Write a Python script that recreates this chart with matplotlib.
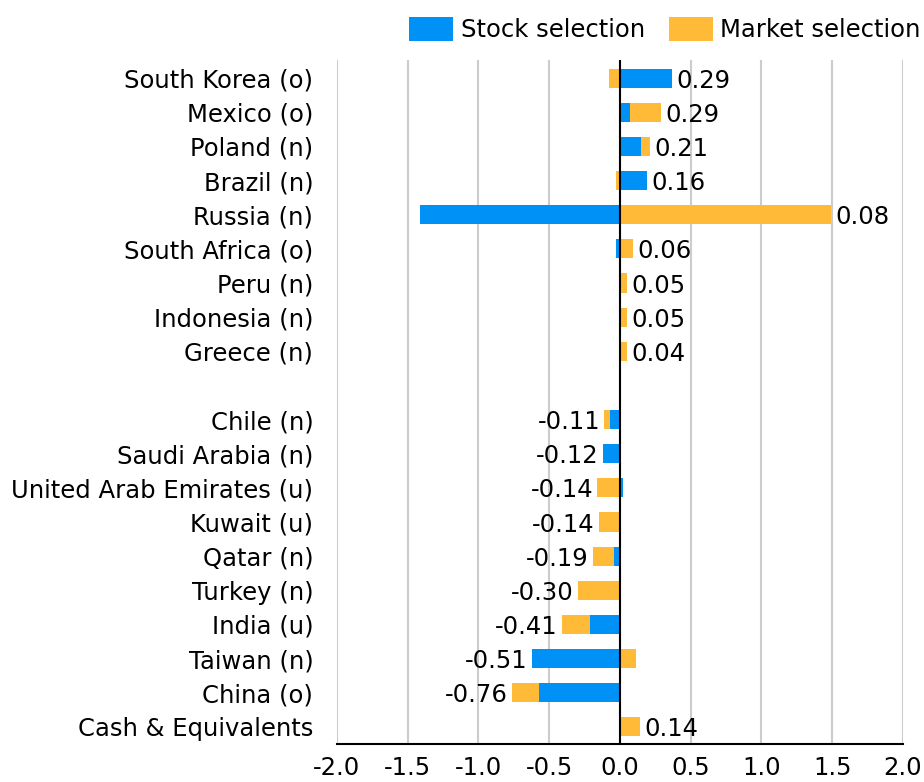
import numpy as np
from matplotlib import pyplot as plt

countries = ['South Korea (o)', 'Mexico (o)', 'Poland (n)', 'Brazil (n)', 'Russia (n)',
             'South Africa (o)', 'Peru (n)', 'Indonesia (n)', 'Greece (n)', '',
             'Chile (n)', 'Saudi Arabia (n)', 'United Arab Emirates (u)', 'Kuwait (u)',
             'Qatar (n)', 'Turkey (n)', 'India (u)', 'Taiwan (n)', 'China (o)',
             'Cash & Equivalents']
stock = [0.37, 0.07, 0.15, 0.19, -1.41, -0.03, 0.00, 0.01, -0.01, 0.0,
         -0.07, -0.12, 0.02, 0.01, -0.04, -0.01, -0.21, -0.62, -0.57, 0.00]
market = [-0.08, 0.22, 0.06, -0.03, 1.49, 0.09, 0.05, 0.04, 0.05, 0.0,
          -0.04, 0.00, -0.16, -0.15, -0.15, -0.29, -0.20, 0.11, -0.19, 0.14]
blank_rows = [9]

blue = '#0091f7'
orange = '#ffbb38'
fs = 17.5

stock = np.array(stock)
market = np.array(market)
y = np.arange(len(countries))

fig = plt.figure(figsize=(9.24, 7.82), dpi=100)
ax = fig.add_axes([0.3647, 0.0486, 0.6125, 0.8746])

# diverging stack: stock nearest zero, market stacked outward on its own side
pos_base = np.where(stock > 0, stock, 0)
neg_base = np.where(stock < 0, stock, 0)
mkt_left = np.where(market >= 0, pos_base, neg_base)
mask = np.ones(len(y), bool)
mask[blank_rows] = False

h = 0.56
ax.barh(y[mask], stock[mask], height=h, color=blue, label='Stock selection', zorder=3)
ax.barh(y[mask], market[mask], left=mkt_left[mask], height=h, color=orange,
        label='Market selection', zorder=3)

for i in y[mask]:
    total = stock[i] + market[i]
    pos_end = max(stock[i], 0) + max(market[i], 0)
    neg_end = min(stock[i], 0) + min(market[i], 0)
    if round(total, 2) >= 0:
        ax.text(pos_end + 0.03, i, f'{total:.2f}', va='center_baseline', ha='left', fontsize=fs)
    else:
        ax.text(neg_end - 0.03, i, f'{total:.2f}', va='center_baseline', ha='right', fontsize=fs)

ax.axvline(0, color='black', lw=1.5, zorder=4)
ax.set_xlim(-2.0, 2.0)
ax.set_ylim(19.5, -0.53)
ax.set_xticks(np.arange(-2.0, 2.01, 0.5))
ax.set_xticklabels([f'{v:.1f}' for v in np.arange(-2.0, 2.01, 0.5)])
ax.set_yticks(y)
ax.set_yticklabels(countries)
ax.tick_params(axis='both', length=0, labelsize=fs)
ax.tick_params(axis='y', pad=17)
ax.tick_params(axis='x', pad=9)
ax.grid(axis='x', color='#cccccc', lw=1.5, zorder=0)
for s in ['left', 'top', 'right']:
    ax.spines[s].set_visible(False)
ax.spines['bottom'].set_linewidth(1.5)

ax.legend(loc='lower right', bbox_to_anchor=(1.063, 1.0), ncol=2, frameon=False,
          fontsize=fs, handlelength=1.8, handleheight=1.15, handletextpad=0.3,
          columnspacing=1.0, borderaxespad=0.35)

fig.savefig('out.png', dpi=100)
